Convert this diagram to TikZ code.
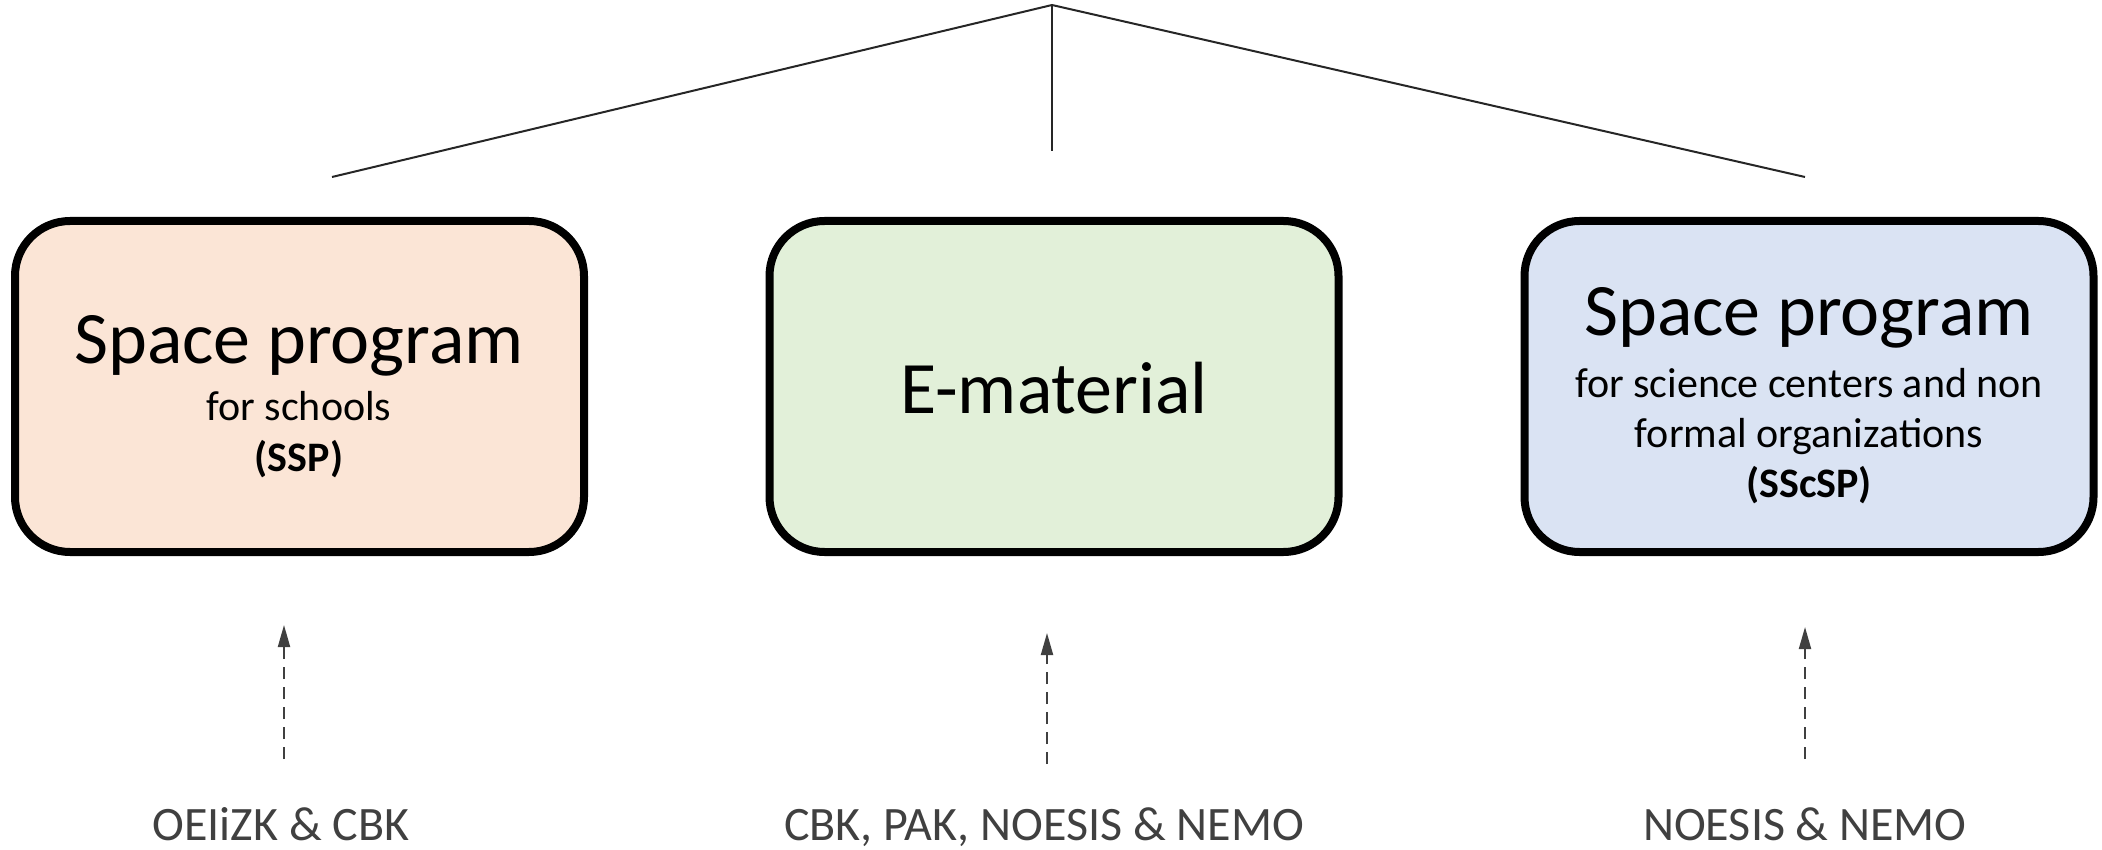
\documentclass[tikz,border=0pt]{standalone}
\usepackage{fontspec}
\setmainfont{Carlito}
\usetikzlibrary{arrows.meta}
\definecolor{fillA}{HTML}{FBE5D6}
\definecolor{fillB}{HTML}{E2F0D9}
\definecolor{fillC}{HTML}{DAE3F3}
\definecolor{treeline}{HTML}{262626}
\definecolor{darkgray}{HTML}{404040}
\tikzset{
  progbox/.style={draw=black, line width=8pt, rounded corners=55pt, inner sep=0pt,
    minimum width=569pt, minimum height=331pt},
  bigtxt/.style={anchor=base, inner sep=0pt, font=\fontsize{74}{80}\selectfont},
  smalltxt/.style={anchor=base, inner sep=0pt, font=\fontsize{42}{48}\selectfont},
  boldtxt/.style={anchor=base, inner sep=0pt, font=\fontsize{42}{48}\selectfont\bfseries},
  labtxt/.style={anchor=base, inner sep=0pt, text=darkgray, font=\fontsize{48}{54}\selectfont},
  treeedge/.style={draw=treeline, line width=2pt},
  upflow/.style={draw=darkgray, line width=2pt, dash pattern=on 12pt off 8pt,
    -{Triangle[length=22pt,width=12pt]}}
}
\begin{document}
\begin{tikzpicture}[x=1pt,y=-1pt]
\useasboundingbox (0,0) rectangle (2102,850);

% boxes
\node[progbox, fill=fillA] (boxA) at (299.5,386.5) {};
\node[progbox, fill=fillB] (boxB) at (1054,386.5) {};
\node[progbox, fill=fillC] (boxC) at (1809,386.5) {};

% box texts
\node[bigtxt] (tA1) at (299,363) {Space program};
\node[smalltxt] (tA2) at (299,420) {for schools};
\node[boldtxt] (tA3) at (299,471) {(SSP)};

\node[bigtxt] (tB1) at (1054,413) {E-material};

\node[bigtxt] (tC1) at (1809,336) {Space program};
\node[smalltxt] (tC2) at (1809,397) {for science centers and non};
\node[smalltxt] (tC3) at (1809,447) {formal organizations};
\node[boldtxt] (tC4) at (1809,497) {(SScSP)};

% tree lines
\coordinate (apex) at (1052,5);
\coordinate (legA) at (332,177);
\coordinate (legB) at (1052,151);
\coordinate (legC) at (1805,177);
\draw[treeedge] (legA) -- (apex) -- (legC);
\draw[treeedge, line width=1.5pt] (apex) -- (legB);

% bottom labels
\node[labtxt] (labA) at (281,840) {OEIiZK \& CBK};
\node[labtxt] (labB) at (1044,840) {CBK, PAK, NOESIS \& NEMO};
\node[labtxt] (labC) at (1805,840) {NOESIS \& NEMO};

% dashed arrows
\coordinate (fA) at (284,759);
\coordinate (hA) at (284,625);
\coordinate (fB) at (1047,764);
\coordinate (hB) at (1047,633);
\coordinate (fC) at (1805,759);
\coordinate (hC) at (1805,627);
\draw[upflow] (fA) -- (hA);
\draw[upflow] (fB) -- (hB);
\draw[upflow] (fC) -- (hC);
\end{tikzpicture}
\end{document}
